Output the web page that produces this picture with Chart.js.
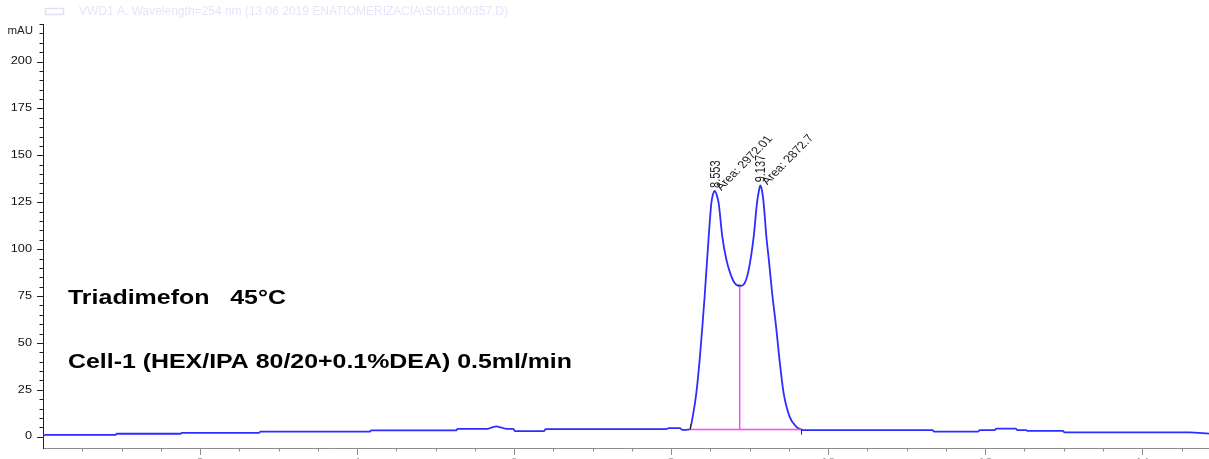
<!DOCTYPE html>
<html>
<head>
<meta charset="utf-8">
<script src="https://cdn.jsdelivr.net/npm/chart.js@4.4.1/dist/chart.umd.min.js"></script>
<style>
  html, body { margin: 0; padding: 0; background: #fff; overflow: hidden; }
  canvas { display: block; }
</style>
</head>
<body>
<canvas id="chrom" width="1209" height="459"></canvas>
<script>
// Retention time (min) and detector signal (mAU) of the VWD1 A trace
const retentionTimes = [
  0.00, 0.03, 0.92, 0.94, 1.75, 1.77, 2.75, 2.77, 4.16, 4.18, 5.26, 5.28, 5.66, 5.72, 5.773, 5.83,
  5.904, 5.99, 6.01, 6.38, 6.40, 7.94, 7.97, 8.11, 8.14, 8.19,
  8.236, 8.274, 8.321, 8.363, 8.397, 8.427, 8.449, 8.478, 8.512, 8.535, 8.553, 8.575, 8.605, 8.652,
  8.70, 8.75, 8.809, 8.873, 8.936, 8.987, 9.051, 9.093, 9.117, 9.137, 9.158, 9.178, 9.213, 9.245,
  9.285, 9.337, 9.38, 9.432, 9.51, 9.595, 9.66,
  9.70, 11.33, 11.35, 11.91, 11.93, 12.12, 12.14, 12.39, 12.41, 12.52, 12.54, 12.99, 13.01, 14.60, 14.85
];
const absorbance = [
  0.5, 1.0, 1.0, 1.6, 1.6, 2.1, 2.1, 2.7, 2.7, 3.35, 3.35, 4.2, 4.2, 5.0, 5.5, 5.0,
  4.2, 4.2, 3.0, 3.0, 4.1, 4.1, 4.6, 4.6, 3.7, 3.7,
  3.9, 10.6, 23.4, 41, 58.5, 75, 88.8, 106.5, 124.5, 129.5, 131.0, 129.5, 124.5, 106.5,
  95, 87.5, 81.9, 80.3, 81.9, 88.8, 106.5, 124.5, 131, 134.0, 131, 124.5, 106.5, 94,
  77, 58.5, 41, 23.4, 10.6, 5.3, 3.8,
  3.5, 3.5, 2.7, 2.7, 3.5, 3.5, 4.3, 4.3, 3.5, 3.5, 3.1, 3.1, 2.3, 2.3, 1.7
];

// Integration events
const peakTimes = [8.553, 9.137];
const peakAreas = ['2972.01', '2872.7'];
const integrationStart = 8.236;
const integrationEnd = 9.66;
const valleyTime = 8.873;

// Axis ticks
const yTickValues = [0, 25, 50, 75, 100, 125, 150, 175, 200];
const yTickLabels = ['0', '25', '50', '75', '100', '125', '150', '175', '200'];
const xTickValues = [2, 4, 6, 8, 10, 12, 14];
const xTickLabels = ['2', '4', '6', '8', '10', '12', '14'];

const headerText = 'VWD1 A, Wavelength=254 nm (13 06 2019 ENATIOMERIZACIA\\SIG1000357.D)';
const titleLine = 'Triadimefon   45\u00B0C';
const conditionsLine = 'Cell-1 (HEX/IPA 80/20+0.1%DEA) 0.5ml/min';

// ---------------------------------------------------------------------------
const FONT = '"Liberation Sans", Arial, Helvetica, sans-serif';
const SX = 1.27; // horizontal stretch of the printed report text

const valueAt = t => absorbance[retentionTimes.indexOf(t)];
const traceData = retentionTimes.map((t, i) => ({ x: t, y: absorbance[i] }));
const baselineData = [
  { x: integrationStart, y: valueAt(integrationStart) },
  { x: integrationEnd, y: valueAt(integrationEnd) }
];
const dropBase = valueAt(integrationStart) +
  (valueAt(integrationEnd) - valueAt(integrationStart)) *
  (valleyTime - integrationStart) / (integrationEnd - integrationStart);
const dropData = [
  { x: valleyTime, y: dropBase },
  { x: valleyTime, y: valueAt(valleyTime) }
];

function stretchedText(ctx, text, x, y, o) {
  ctx.save();
  ctx.translate(x, y);
  ctx.scale(o.sx || SX, 1);
  if (o.angle) ctx.rotate(-o.angle * Math.PI / 180);
  ctx.font = o.font;
  ctx.fillStyle = o.color;
  ctx.textAlign = o.align || 'left';
  ctx.textBaseline = o.baseline || 'alphabetic';
  ctx.fillText(text, 0, 0);
  ctx.restore();
}

function fitScale(ctx, text, font, width) {
  ctx.save();
  ctx.font = font;
  const w = ctx.measureText(text).width;
  ctx.restore();
  return width / w;
}

const reportDecor = {
  id: 'reportDecor',
  afterDraw(chart) {
    const { ctx, chartArea, scales: { x, y } } = chart;
    const left = chartArea.left;
    const bottom = chartArea.bottom;

    // y axis ticks: minor every 5 mAU, major every 25 mAU
    ctx.save();
    ctx.strokeStyle = '#222';
    ctx.lineWidth = 1;
    for (let v = 0; v <= y.max + 0.01; v += 5) {
      const py = Math.round(y.getPixelForValue(v)) + 0.5;
      const len = (v % 25 === 0) ? 6 : 3.5;
      ctx.beginPath();
      ctx.moveTo(left - len, py);
      ctx.lineTo(left, py);
      ctx.stroke();
    }
    // x axis ticks: minor every 0.5 min, major every 2 min
    ctx.strokeStyle = '#8c8c8c';
    for (let t = 0.5; t < x.max; t += 0.5) {
      const px = Math.round(x.getPixelForValue(t)) + 0.5;
      const len = (Math.abs(t % 2) < 1e-6) ? 7 : 3.5;
      ctx.beginPath();
      ctx.moveTo(px, bottom);
      ctx.lineTo(px, bottom + len);
      ctx.stroke();
    }
    ctx.restore();

    // y tick labels
    yTickValues.forEach((v, i) => {
      stretchedText(ctx, yTickLabels[i], left - 11, y.getPixelForValue(v),
        { font: '10px ' + FONT, color: '#111', align: 'right', baseline: 'middle' });
    });
    stretchedText(ctx, 'mAU', left - 10, 31,
      { font: '10px ' + FONT, color: '#222', align: 'right', baseline: 'middle', sx: 1.15 });

    // x tick labels (below the axis, mostly past the bottom edge)
    xTickValues.forEach((t, i) => {
      stretchedText(ctx, xTickLabels[i], x.getPixelForValue(t), bottom + 10,
        { font: '10px ' + FONT, color: '#999', align: 'center', baseline: 'top' });
    });

    // integration event marks
    ctx.save();
    ctx.strokeStyle = '#222';
    ctx.lineWidth = 1;
    const sx = Math.round(x.getPixelForValue(integrationStart)) + 0.5;
    const sy = y.getPixelForValue(valueAt(integrationStart));
    ctx.beginPath(); ctx.moveTo(sx, sy); ctx.lineTo(sx, sy - 5); ctx.stroke();
    const ex = Math.round(x.getPixelForValue(integrationEnd)) + 0.5;
    const ey = y.getPixelForValue(valueAt(integrationEnd));
    ctx.beginPath(); ctx.moveTo(ex, ey); ctx.lineTo(ex, ey + 5); ctx.stroke();
    const vx = x.getPixelForValue(valleyTime);
    const vy = y.getPixelForValue(valueAt(valleyTime));
    ctx.beginPath(); ctx.moveTo(vx - 2, vy - 1); ctx.lineTo(vx + 1, vy - 1); ctx.stroke();
    ctx.restore();

    // peak annotations: retention time and area
    peakTimes.forEach((t, i) => {
      const px = x.getPixelForValue(t);
      const py = y.getPixelForValue(valueAt(t));
      stretchedText(ctx, t.toFixed(3), px + 5, py - 3,
        { font: '11px ' + FONT, color: '#222', angle: 90 });
      stretchedText(ctx, 'Area: ' + peakAreas[i], px + 7, py,
        { font: '10.5px ' + FONT, color: '#222', angle: 52 });
    });

    // method text
    const tFont = 'bold 20px ' + FONT;
    stretchedText(ctx, titleLine, 68, 304,
      { font: tFont, color: '#000', sx: fitScale(ctx, titleLine, tFont, 218) });
    const cFont = 'bold 19.5px ' + FONT;
    stretchedText(ctx, conditionsLine, 68, 368,
      { font: cFont, color: '#000', sx: fitScale(ctx, conditionsLine, cFont, 504) });

    // faint signal header with legend swatch
    ctx.save();
    ctx.strokeStyle = 'rgb(225,222,248)';
    ctx.lineWidth = 1.5;
    ctx.strokeRect(45.5, 8.5, 18, 6);
    ctx.restore();
    const hFont = '12.5px ' + FONT;
    stretchedText(ctx, headerText, 79, 11.5,
      { font: hFont, color: 'rgb(230,228,250)', baseline: 'middle',
        sx: fitScale(ctx, headerText, hFont, 429) });
  }
};

new Chart(document.getElementById('chrom'), {
  type: 'line',
  data: {
    datasets: [
      { data: baselineData, borderColor: 'rgb(255,70,255)', borderWidth: 1.5, pointRadius: 0, order: 1 },
      { data: dropData, borderColor: 'rgb(255,70,255)', borderWidth: 1.5, pointRadius: 0, order: 1 },
      { data: traceData, borderColor: 'rgb(45,45,255)', borderWidth: 1.8, pointRadius: 0,
        cubicInterpolationMode: 'monotone', order: 2 }
    ]
  },
  options: {
    responsive: false,
    animation: false,
    devicePixelRatio: 1,
    layout: { padding: { left: 43, top: 24, right: 0, bottom: 11 } },
    plugins: { legend: { display: false }, tooltip: { enabled: false } },
    scales: {
      x: {
        type: 'linear', min: 0, max: 14.85,
        grid: { display: false, drawTicks: false },
        border: { display: true, color: '#8c8c8c', width: 1 },
        ticks: { display: false }
      },
      y: {
        type: 'linear', min: -6, max: 220,
        grid: { display: false, drawTicks: false },
        border: { display: true, color: '#222', width: 1 },
        ticks: { display: false }
      }
    }
  },
  plugins: [reportDecor]
});
</script>
</body>
</html>
